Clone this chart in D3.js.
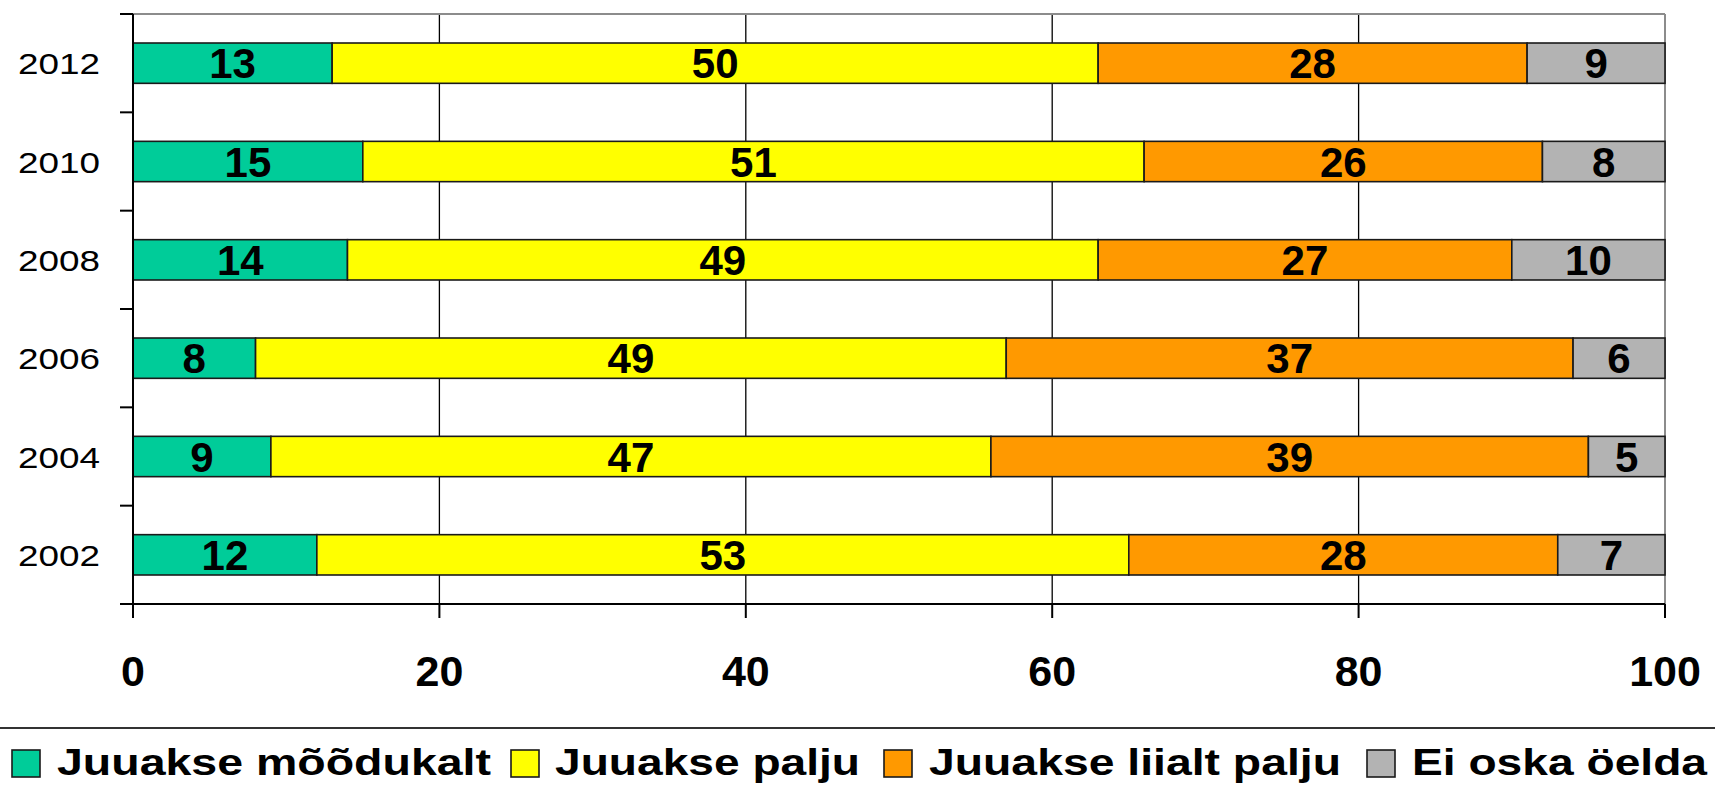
<!DOCTYPE html>
<html lang="et">
<head>
  <meta charset="utf-8">
  <title>Joomine</title>
  <script src="https://d3js.org/d3.v7.min.js"></script>
  <style>
    body { margin: 0; background: #fff; }
    svg { display: block; font-family: "Liberation Sans", Arial, Helvetica, sans-serif; }
  </style>
</head>
<body>
  <div id="chart"></div>
  <script>
    // data
    var years = ["2012", "2010", "2008", "2006", "2004", "2002"];
    var seriesNames = ["Juuakse mõõdukalt", "Juuakse palju", "Juuakse liialt palju", "Ei oska öelda"];
    var seriesColors = ["#00cc99", "#ffff00", "#ff9900", "#b3b3b3"];
    var moodukalt = [13, 15, 14, 8, 9, 12];
    var palju = [50, 51, 49, 49, 47, 53];
    var liialt = [28, 26, 27, 37, 39, 28];
    var eiOska = [9, 8, 10, 6, 5, 7];
    var xTicks = [0, 20, 40, 60, 80, 100];

    var W = 1715, H = 787;
    var margin = { top: 14, right: 50, bottom: 183, left: 133 };
    var width = W - margin.left - margin.right,
      height = H - margin.top - margin.bottom;

    var svg = d3.select("#chart").append("svg")
      .attr("width", W).attr("height", H);

    var g = svg.append("g")
      .attr("transform", "translate(" + margin.left + "," + margin.top + ")");

    var x = d3.scaleLinear().domain([0, 100]).range([0, width]);
    var y = d3.scaleBand().domain(years).range([0, height]).paddingInner(0.59).paddingOuter(0.295);
    var yOuter = d3.scaleBand().domain(years).range([0, height]);

    // gridlines
    g.selectAll(".grid").data(xTicks.filter(function (d) { return d > 0 && d < 100; }))
      .enter().append("line")
      .attr("x1", function (d) { return x(d); }).attr("x2", function (d) { return x(d); })
      .attr("y1", 0).attr("y2", height)
      .attr("stroke", "#000").attr("stroke-width", 1.3);

    // top and right border
    g.append("line").attr("x1", 0).attr("x2", width).attr("y1", 0).attr("y2", 0)
      .attr("stroke", "#8c8c8c").attr("stroke-width", 2);
    g.append("line").attr("x1", width).attr("x2", width).attr("y1", 0).attr("y2", height)
      .attr("stroke", "#8c8c8c").attr("stroke-width", 2);

    // stack the series
    var rows = years.map(function (yr, i) {
      return { year: yr, vals: [moodukalt[i], palju[i], liialt[i], eiOska[i]] };
    });
    var segs = [];
    rows.forEach(function (r) {
      var acc = 0;
      r.vals.forEach(function (v, k) {
        segs.push({ year: r.year, k: k, x0: acc, x1: acc + v, v: v });
        acc += v;
      });
    });

    g.selectAll(".bar").data(segs).enter().append("rect")
      .attr("x", function (d) { return x(d.x0); })
      .attr("y", function (d) { return y(d.year); })
      .attr("width", function (d) { return x(d.x1) - x(d.x0); })
      .attr("height", y.bandwidth())
      .attr("fill", function (d) { return seriesColors[d.k]; })
      .attr("stroke", "#1a1a1a").attr("stroke-width", 1.6);

    g.selectAll(".val").data(segs).enter().append("text")
      .attr("x", function (d) { return x((d.x0 + d.x1) / 2); })
      .attr("y", function (d) { return y(d.year) + y.bandwidth() / 2 + 15; })
      .attr("text-anchor", "middle")
      .attr("font-size", 42).attr("font-weight", "bold")
      .text(function (d) { return d.v; });

    // y axis
    var yAxis = g.append("g");
    yAxis.append("line").attr("x1", 0).attr("x2", 0).attr("y1", 0).attr("y2", height + 14)
      .attr("stroke", "#000").attr("stroke-width", 2);
    yAxis.selectAll(".ytick").data(years.concat(["end"])).enter().append("line")
      .attr("x1", -13).attr("x2", 0)
      .attr("y1", function (d, i) { return i * yOuter.step(); })
      .attr("y2", function (d, i) { return i * yOuter.step(); })
      .attr("stroke", "#000").attr("stroke-width", 2);
    // the picture's year labels are wider than plain Arial, stretch them
    yAxis.selectAll(".ylab").data(years).enter().append("text")
      .attr("x", -33)
      .attr("y", function (d) { return yOuter(d) + yOuter.bandwidth() / 2 + 11; })
      .attr("text-anchor", "end")
      .attr("font-size", 30)
      .attr("textLength", 82).attr("lengthAdjust", "spacingAndGlyphs")
      .text(function (d) { return d; });

    // x axis
    var xAxis = g.append("g").attr("transform", "translate(0," + height + ")");
    xAxis.append("line").attr("x1", -13).attr("x2", width).attr("y1", 0).attr("y2", 0)
      .attr("stroke", "#000").attr("stroke-width", 2);
    xAxis.selectAll(".xtick").data(xTicks).enter().append("line")
      .attr("x1", function (d) { return x(d); }).attr("x2", function (d) { return x(d); })
      .attr("y1", 0).attr("y2", 14)
      .attr("stroke", "#000").attr("stroke-width", 2);
    xAxis.selectAll(".xlab").data(xTicks).enter().append("text")
      .attr("x", function (d) { return x(d); })
      .attr("y", 82)
      .attr("text-anchor", "middle")
      .attr("font-size", 43).attr("font-weight", "bold")
      .text(function (d) { return d; });

    // legend
    svg.append("line").attr("x1", 0).attr("x2", W).attr("y1", 728).attr("y2", 728)
      .attr("stroke", "#333").attr("stroke-width", 2);
    var legendX = [12, 511, 884, 1367];
    var legendTextX = [57, 555, 929, 1412];
    var legendTextW = [434, 305, 412, 295];
    var legend = svg.selectAll(".leg").data(seriesNames).enter().append("g");
    legend.append("rect")
      .attr("x", function (d, i) { return legendX[i]; }).attr("y", 750)
      .attr("width", 28).attr("height", 27)
      .attr("fill", function (d, i) { return seriesColors[i]; })
      .attr("stroke", "#1a1a1a").attr("stroke-width", 1.6);
    legend.append("text")
      .attr("x", function (d, i) { return legendTextX[i]; }).attr("y", 775)
      .attr("font-size", 37).attr("font-weight", "bold")
      .attr("textLength", function (d, i) { return legendTextW[i]; })
      .attr("lengthAdjust", "spacingAndGlyphs")
      .text(function (d) { return d; });
  </script>
</body>
</html>
